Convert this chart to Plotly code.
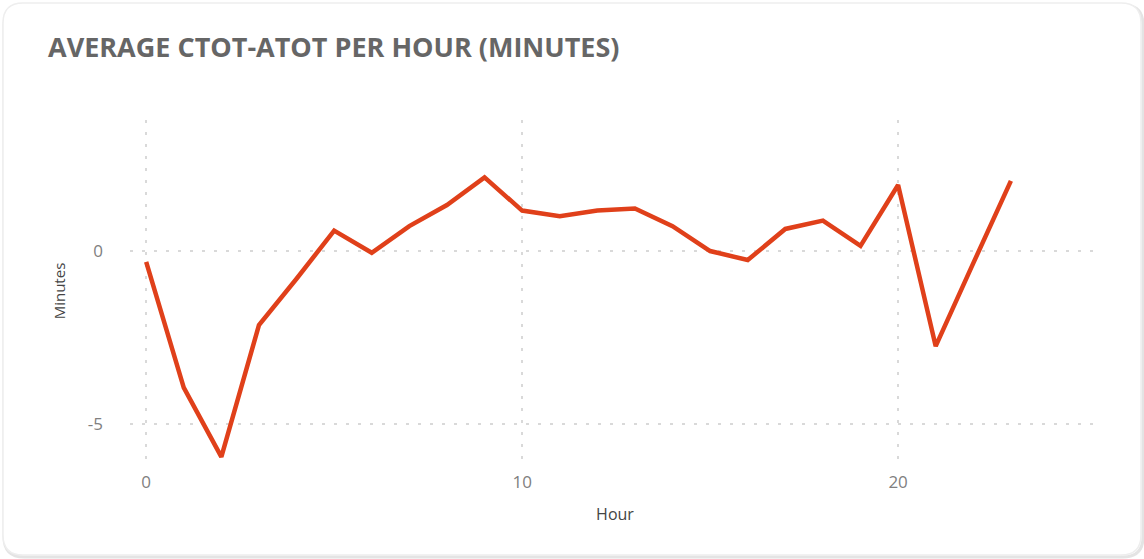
import plotly.graph_objects as go

W, H = 1144, 559
ML, MR, MT, MB = 130, 44, 120, 97

hours = list(range(24))
avg_minutes = [-0.31, -3.95, -5.95, -2.14, -0.8, 0.59, -0.05, 0.72, 1.33, 2.13,
               1.17, 1.01, 1.17, 1.23, 0.72, 0.0, -0.26, 0.64, 0.88, 0.15,
               1.91, -2.75, -0.35, 2.03]

x_ticks = [0, 10, 20]
y_ticks = [-5, 0]
y_tick_text = ["-5", "0"]

fig = go.Figure()
fig.add_trace(go.Scatter(
    x=hours, y=avg_minutes, mode="lines",
    line=dict(color="#E0401A", width=4.5),
    hoverinfo="x+y", showlegend=False,
))

# rounded card outline, converted from pixels to paper coords
pw, ph = W - ML - MR, H - MT - MB


def px(x):
    return (x - ML) / pw


def py(y):
    return (H - MB - y) / ph


def card_path(x0, y0, x1, y1, r):
    return (
        f"M {px(x0 + r)} {py(y0)} L {px(x1 - r)} {py(y0)} "
        f"Q {px(x1)} {py(y0)} {px(x1)} {py(y0 + r)} "
        f"L {px(x1)} {py(y1 - r)} Q {px(x1)} {py(y1)} {px(x1 - r)} {py(y1)} "
        f"L {px(x0 + r)} {py(y1)} Q {px(x0)} {py(y1)} {px(x0)} {py(y1 - r)} "
        f"L {px(x0)} {py(y0 + r)} Q {px(x0)} {py(y0)} {px(x0 + r)} {py(y0)} Z"
    )


# soft shadow then the card itself
fig.add_shape(type="path", path=card_path(4, 5, 1143, 557, 20), xref="paper", yref="paper",
              line=dict(color="#E4E4E4", width=3), layer="below")
fig.add_shape(type="path", path=card_path(3, 3, 1141, 555, 20), xref="paper", yref="paper",
              line=dict(color="#EEEEEE", width=1.5), fillcolor="white", layer="below")

fig.update_layout(
    width=W, height=H,
    margin=dict(l=ML, r=MR, t=MT, b=MB),
    paper_bgcolor="white", plot_bgcolor="rgba(0,0,0,0)",
    font=dict(family="Open Sans", color="#777777"),
    title=dict(
        text="<b>AVERAGE CTOT-ATOT PER HOUR (MINUTES)</b>",
        x=48 / W, xanchor="left", y=1 - 48 / H, yanchor="middle",
        font=dict(size=27, color="#666666", family="Open Sans"),
    ),
)
grid = dict(showline=False, zeroline=False, showgrid=True,
            gridcolor="#D9D9D9", griddash="3px,9px", gridwidth=2)
fig.update_xaxes(
    range=[-0.43, 25.37], tickvals=x_ticks, **grid,
    tickfont=dict(size=17, color="#808080"), ticklabelstandoff=8,
    title=dict(text="Hour", font=dict(size=16, color="#444444"), standoff=16),
)
fig.update_yaxes(
    range=[-6.1, 3.79], tickvals=y_ticks, ticktext=y_tick_text, **grid,
    tickfont=dict(size=17, color="#808080"), ticklabelstandoff=26,
    title=dict(text="Minutes", font=dict(size=15, color="#444444"), standoff=18),
)

fig.write_html("out.html", config={"displayModeBar": False},
               post_script="document.body.style.margin='0';")
